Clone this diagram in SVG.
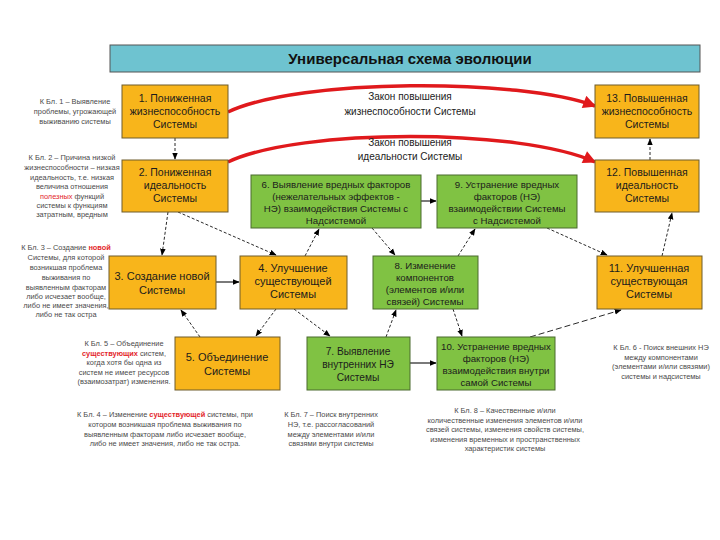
<svg xmlns="http://www.w3.org/2000/svg" width="720" height="540" viewBox="0 0 720 540">
<style>
.t{font-family:"Liberation Sans",Arial,sans-serif;font-size:10.5px;fill:#1c1c1c;text-anchor:middle}
.tg{font-family:"Liberation Sans",Arial,sans-serif;font-size:9.7px;fill:#1c1c1c;text-anchor:middle}
.a{font-family:"Liberation Sans",Arial,sans-serif;font-size:7.4px;fill:#4a4a4a;text-anchor:middle}
.law{font-family:"Liberation Sans",Arial,sans-serif;font-size:10px;fill:#222;text-anchor:middle}
.r{fill:#e3262b}
.o{fill:#f8b51b;stroke:#6e5d2c;stroke-width:1}
.g{fill:#80c243;stroke:#4a6a2e;stroke-width:1}
.d{fill:none;stroke:#111;stroke-width:0.9;stroke-dasharray:3,2;marker-end:url(#ah)}
.s{fill:none;stroke:#222;stroke-width:1.2;marker-end:url(#ah)}
.red{fill:none;stroke:#e0191c;stroke-width:3.5;marker-end:url(#rh)}
</style>
<defs>
<marker id="ah" viewBox="0 0 10 10" refX="9" refY="5" markerWidth="7" markerHeight="7" markerUnits="userSpaceOnUse" orient="auto"><path d="M0,1 L10,5 L0,9 z" fill="#000"/></marker>
<marker id="rh" viewBox="0 0 10 10" refX="9" refY="5" markerWidth="14" markerHeight="13" markerUnits="userSpaceOnUse" orient="auto"><path d="M0,0 L10,5 L0,10 z" fill="#e0191c"/></marker>
</defs>
<rect width="720" height="540" fill="#fff"/>
<g id="title">
<rect x="110" y="45" width="590" height="27" fill="#6ec3d0" stroke="#555" stroke-width="1"/>
<text x="410" y="64" style="font-family:'Liberation Sans',Arial,sans-serif;font-size:15px;font-weight:bold;fill:#111;text-anchor:middle">Универсальная схема эволюции</text>
</g>
<g id="connectors">
<path class="red" d="M228,112 C300,78 520,78 595,106"/>
<path class="red" d="M228,162 C300,128 520,128 595,162"/>
<path class="d" d="M175,138 L175,159"/>
<path class="d" d="M650,160 L650,139"/>
<path class="d" d="M168,212 L162,255"/>
<path class="d" d="M178,212 L276,255"/>
<path class="d" d="M305,256 L319,229"/>
<path class="d" d="M372,228 L395,255"/>
<path class="d" d="M458,256 L475,229"/>
<path class="d" d="M547,228 L607,255"/>
<path class="d" d="M662,256 L672,213"/>
<path class="s" d="M421,201 L436,201"/>
<path class="s" d="M216,282 L239,282"/>
<path class="s" d="M410,363 L436,363"/>
<path class="d" d="M200,337 L181,310"/>
<path class="d" d="M276,309 L256,336"/>
<path class="d" d="M294,309 L330,336"/>
<path class="d" d="M386,337 L396,310"/>
<path class="d" d="M453,309 L462,336"/>
<path class="d" style="stroke-dasharray:6,3" d="M530,337 L621,310"/>
</g>
<g id="laws">
<text class="law" x="410" y="100">Закон повышения</text>
<text class="law" x="410" y="115">жизнеспособности Системы</text>
<text class="law" x="410" y="146">Закон повышения</text>
<text class="law" x="410" y="160">идеальности Системы</text>
</g>
<g id="n1"><rect class="o" x="122" y="85" width="106" height="53"/>
<text class="t" x="175" y="102">1. Пониженная</text><text class="t" x="175" y="115">жизнеспособность</text><text class="t" x="175" y="128">Системы</text></g>
<g id="n13"><rect class="o" x="595" y="85" width="104" height="53"/>
<text class="t" x="647" y="102">13. Повышенная</text><text class="t" x="647" y="115">жизнеспособность</text><text class="t" x="647" y="128">Системы</text></g>
<g id="n2"><rect class="o" x="122" y="160" width="106" height="52"/>
<text class="t" x="175" y="176">2. Пониженная</text><text class="t" x="175" y="189">идеальность</text><text class="t" x="175" y="202">Системы</text></g>
<g id="n12"><rect class="o" x="595" y="160" width="104" height="52"/>
<text class="t" x="647" y="176">12. Повышенная</text><text class="t" x="647" y="189">идеальность</text><text class="t" x="647" y="202">Системы</text></g>
<g id="n6"><rect class="g" x="251" y="175" width="170" height="53"/>
<text class="tg" x="336" y="188">6. Выявление вредных факторов</text><text class="tg" x="336" y="200">(нежелательных эффектов -</text><text class="tg" x="336" y="212">НЭ) взаимодействия Системы с</text><text class="tg" x="336" y="224">Надсистемой</text></g>
<g id="n9"><rect class="g" x="437" y="175" width="140" height="53"/>
<text class="tg" x="507" y="188">9. Устранение вредных</text><text class="tg" x="507" y="200">факторов (НЭ)</text><text class="tg" x="507" y="212">взаимодействии Системы</text><text class="tg" x="507" y="224">с Надсистемой</text></g>
<g id="n3"><rect class="o" x="109" y="256" width="107" height="53"/>
<text class="t" x="162" y="280" style="font-size:11px">3. Создание новой</text><text class="t" x="162" y="294" style="font-size:11px">Системы</text></g>
<g id="n4"><rect class="o" x="240" y="256" width="107" height="53"/>
<text class="t" x="293" y="272" style="font-size:11px">4. Улучшение</text><text class="t" x="293" y="285" style="font-size:11px">существующей</text><text class="t" x="293" y="298" style="font-size:11px">Системы</text></g>
<g id="n8"><rect class="g" x="373" y="256" width="105" height="53"/>
<text class="tg" x="425" y="269">8. Изменение</text><text class="tg" x="425" y="281">компонентов</text><text class="tg" x="425" y="293">(элементов и/или</text><text class="tg" x="425" y="305">связей) Системы</text></g>
<g id="n11"><rect class="o" x="597" y="256" width="105" height="53"/>
<text class="t" x="649" y="272" style="font-size:11px">11. Улучшенная</text><text class="t" x="649" y="285" style="font-size:11px">существующая</text><text class="t" x="649" y="298" style="font-size:11px">Системы</text></g>
<g id="n5"><rect class="o" x="175" y="337" width="105" height="53"/>
<text class="t" x="227" y="361" style="font-size:11px">5. Объединение</text><text class="t" x="227" y="375" style="font-size:11px">Системы</text></g>
<g id="n7"><rect class="g" x="307" y="337" width="103" height="53"/>
<text class="tg" x="358" y="355" style="font-size:10.2px">7. Выявление</text><text class="tg" x="358" y="368" style="font-size:10.2px">внутренних НЭ</text><text class="tg" x="358" y="381" style="font-size:10.2px">Системы</text></g>
<g id="n10"><rect class="g" x="437" y="337" width="118" height="53"/>
<text class="tg" x="496" y="350">10. Устранение вредных</text><text class="tg" x="496" y="362">факторов (НЭ)</text><text class="tg" x="496" y="374">взаимодействия внутри</text><text class="tg" x="496" y="386">самой Системы</text></g>
<g id="notes">
<text class="a" x="75" y="104">К Бл. 1 – Выявление</text>
<text class="a" x="75" y="114">проблемы, угрожающей</text>
<text class="a" x="75" y="124">выживанию системы</text>
<text class="a" x="72" y="160">К Бл. 2 – Причина низкой</text>
<text class="a" x="72" y="170">жизнеспособности – низкая</text>
<text class="a" x="72" y="180">идеальность, т.е. низкая</text>
<text class="a" x="72" y="189">величина отношения</text>
<text class="a" x="72" y="199"><tspan class="r">полезных</tspan> функций</text>
<text class="a" x="72" y="208">системы к функциям</text>
<text class="a" x="72" y="217">затратным, вредным</text>
<text class="a" x="66" y="250">К Бл. 3 – Создание <tspan class="r" font-weight="bold">новой</tspan></text>
<text class="a" x="66" y="260">Системы, для которой</text>
<text class="a" x="66" y="270">возникшая проблема</text>
<text class="a" x="66" y="280">выживания по</text>
<text class="a" x="66" y="290">выявленным факторам</text>
<text class="a" x="66" y="299">либо исчезает вообще,</text>
<text class="a" x="66" y="308">либо не имеет значения,</text>
<text class="a" x="66" y="317">либо не так остра</text>
<text class="a" x="124" y="346">К Бл. 5 – Объединение</text>
<text class="a" x="124" y="356"><tspan class="r" font-weight="bold">существующих</tspan> систем,</text>
<text class="a" x="124" y="365">когда хотя бы одна из</text>
<text class="a" x="124" y="375">систем не имеет ресурсов</text>
<text class="a" x="124" y="384">(взаимозатрат) изменения.</text>
<text class="a" x="165" y="417">К Бл. 4 – Изменение <tspan class="r" font-weight="bold">существующей</tspan> системы, при</text>
<text class="a" x="165" y="427">котором возникшая проблема выживания по</text>
<text class="a" x="165" y="437">выявленным факторам либо исчезает вообще,</text>
<text class="a" x="165" y="446">либо не имеет значения, либо не так остра.</text>
<text class="a" x="331" y="417">К Бл. 7 – Поиск внутренних</text>
<text class="a" x="331" y="427">НЭ, т.е. рассогласований</text>
<text class="a" x="331" y="437">между элементами и/или</text>
<text class="a" x="331" y="446">связями внутри системы</text>
<text class="a" x="505" y="413">К Бл. 8 – Качественные и/или</text>
<text class="a" x="505" y="423">количественные изменения элементов и/или</text>
<text class="a" x="505" y="432">связей системы, изменения свойств системы,</text>
<text class="a" x="505" y="442">изменения временных и пространственных</text>
<text class="a" x="505" y="451">характеристик системы</text>
<text class="a" x="661" y="350">К Бл. 6 - Поиск внешних НЭ</text>
<text class="a" x="661" y="360">между компонентами</text>
<text class="a" x="661" y="369">(элементами и/или связями)</text>
<text class="a" x="661" y="379">системы и надсистемы</text>
</g>
</svg>
